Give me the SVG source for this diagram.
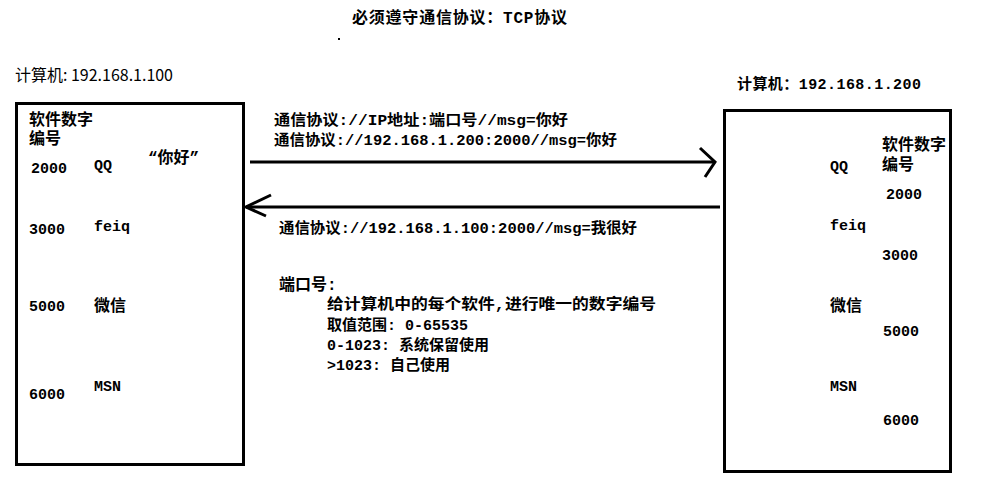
<svg xmlns="http://www.w3.org/2000/svg" width="995" height="494" viewBox="0 0 995 494">
<style>
.t{font-family:"Liberation Mono","Noto Sans CJK SC",monospace;font-size:15px;font-weight:bold;fill:#000}
.h{font-family:"Liberation Mono","Noto Sans CJK SC",monospace;font-size:16px;font-weight:bold;fill:#000}
.s{font-family:"Noto Sans CJK SC",sans-serif;font-size:16px;fill:#000}
.box{fill:#fff;stroke:#000;stroke-width:3}
.ln{fill:none;stroke:#000;stroke-width:3}
</style>
<rect width="995" height="494" fill="#fff"/>
<g id="title">
<text class="h" x="352" y="23" textLength="215" lengthAdjust="spacing">必须遵守通信协议：TCP协议</text>
<rect x="338" y="38" width="2" height="2" fill="#000"/>
</g>
<g id="computer-100">
<text class="s" x="15" y="81" textLength="158" lengthAdjust="spacingAndGlyphs">计算机: 192.168.1.100</text>
<rect class="box" x="16.5" y="103.5" width="227" height="361"/>
<text class="h" x="29" y="125">软件数字</text>
<text class="h" x="29" y="144">编号</text>
<text class="h" x="148" y="163">“你好”</text>
<text class="t" x="31" y="173">2000</text>
<text class="t" x="94" y="170">QQ</text>
<text class="t" x="29" y="234">3000</text>
<text class="t" x="94" y="231">feiq</text>
<text class="t" x="29" y="311">5000</text>
<text class="h" x="94" y="311">微信</text>
<text class="t" x="29" y="399">6000</text>
<text class="t" x="94" y="391">MSN</text>
</g>
<g id="computer-200">
<text class="t" x="737" y="89" textLength="184" lengthAdjust="spacing">计算机：192.168.1.200</text>
<rect class="box" x="724.5" y="110.5" width="226" height="361"/>
<text class="h" x="882" y="150">软件数字</text>
<text class="h" x="882" y="170">编号</text>
<text class="t" x="830" y="171">QQ</text>
<text class="t" x="886" y="199">2000</text>
<text class="t" x="830" y="230">feiq</text>
<text class="t" x="882" y="260">3000</text>
<text class="h" x="830" y="311">微信</text>
<text class="t" x="883" y="336">5000</text>
<text class="t" x="830" y="391">MSN</text>
<text class="t" x="883" y="425">6000</text>
</g>
<g id="connectors">
<line class="ln" x1="250" y1="162" x2="715" y2="162"/>
<polyline class="ln" points="700,148 715,162 705,177"/>
<line class="ln" x1="246" y1="207" x2="720" y2="207"/>
<polyline class="ln" points="271,195 246,207 266,216"/>
</g>
<g id="messages">
<text class="t" x="274" y="125" textLength="294" lengthAdjust="spacingAndGlyphs">通信协议://IP地址:端口号//msg=你好</text>
<text class="t" x="274" y="145" textLength="343" lengthAdjust="spacingAndGlyphs">通信协议://192.168.1.200:2000//msg=你好</text>
<text class="t" x="279" y="233" textLength="358" lengthAdjust="spacingAndGlyphs">通信协议://192.168.1.100:2000//msg=我很好</text>
</g>
<g id="port-notes">
<text class="h" x="279" y="290">端口号:</text>
<text class="t" x="327" y="309" textLength="329" lengthAdjust="spacingAndGlyphs">给计算机中的每个软件,进行唯一的数字编号</text>
<text class="t" x="327" y="330">取值范围: 0-65535</text>
<text class="t" x="327" y="350">0-1023: 系统保留使用</text>
<text class="t" x="327" y="370">&gt;1023: 自己使用</text>
</g>
</svg>
